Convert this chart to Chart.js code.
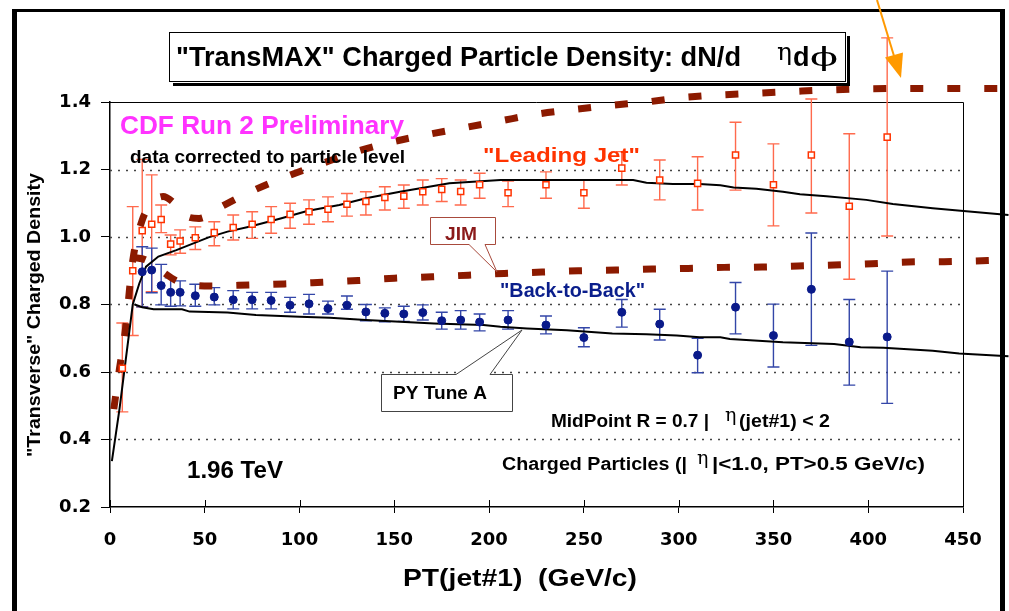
<!DOCTYPE html>
<html>
<head>
<meta charset="utf-8">
<script src="https://cdn.jsdelivr.net/npm/chart.js@4.4.1/dist/chart.umd.min.js"></script>
<style>
  html, body { margin: 0; padding: 0; background: #fff; }
  canvas { display: block; }
</style>
</head>
<body>
<canvas id="transmax" width="1009" height="611"></canvas>
<script>
// "Leading Jet" data points (open red squares) with error bars
const jetPt      = [6.5, 12, 17, 22, 27, 32, 37, 45, 55, 65, 75, 85, 95, 105, 115, 125, 135, 145, 155, 165, 175, 185, 195, 210, 230, 250, 270, 290, 310, 330, 350, 370, 390, 410];
const jetDensity = [0.611, 0.900, 1.019, 1.038, 1.052, 0.979, 0.988, 0.998, 1.013, 1.028, 1.038, 1.052, 1.067, 1.075, 1.082, 1.097, 1.105, 1.117, 1.121, 1.134, 1.141, 1.135, 1.155, 1.131, 1.155, 1.131, 1.204, 1.169, 1.159, 1.243, 1.155, 1.243, 1.091, 1.296];
const jetHigh    = [0.745, 1.090, 1.230, 1.184, 1.095, 1.006, 1.021, 1.030, 1.045, 1.065, 1.075, 1.090, 1.100, 1.110, 1.119, 1.129, 1.134, 1.149, 1.154, 1.169, 1.173, 1.169, 1.189, 1.166, 1.193, 1.169, 1.253, 1.228, 1.238, 1.340, 1.276, 1.409, 1.306, 1.590];
const jetLow     = [0.482, 0.708, 0.793, 0.838, 1.013, 0.947, 0.952, 0.963, 0.974, 0.991, 0.996, 1.011, 1.026, 1.038, 1.045, 1.062, 1.065, 1.080, 1.085, 1.095, 1.105, 1.095, 1.115, 1.090, 1.115, 1.085, 1.154, 1.110, 1.080, 1.139, 1.033, 1.071, 0.875, 1.003];

// "Back-to-Back" data points (blue dots) with error bars
const b2bPt      = [17, 22, 27, 32, 37, 45, 55, 65, 75, 85, 95, 105, 115, 125, 135, 145, 155, 165, 175, 185, 195, 210, 230, 250, 270, 290, 310, 330, 350, 370, 390, 410];
const b2bDensity = [0.897, 0.902, 0.856, 0.836, 0.836, 0.826, 0.822, 0.814, 0.814, 0.812, 0.798, 0.802, 0.788, 0.798, 0.778, 0.774, 0.772, 0.776, 0.752, 0.754, 0.748, 0.754, 0.739, 0.702, 0.777, 0.742, 0.650, 0.792, 0.708, 0.845, 0.689, 0.704];
const b2bHigh    = [0.971, 0.967, 0.919, 0.879, 0.870, 0.860, 0.850, 0.841, 0.836, 0.836, 0.821, 0.830, 0.810, 0.825, 0.800, 0.790, 0.795, 0.799, 0.777, 0.782, 0.772, 0.782, 0.766, 0.731, 0.815, 0.786, 0.700, 0.865, 0.801, 1.012, 0.815, 0.899];
const b2bLow     = [0.793, 0.835, 0.799, 0.795, 0.796, 0.795, 0.799, 0.787, 0.787, 0.787, 0.777, 0.772, 0.772, 0.786, 0.752, 0.749, 0.750, 0.754, 0.727, 0.727, 0.722, 0.727, 0.713, 0.675, 0.733, 0.695, 0.598, 0.713, 0.615, 0.679, 0.561, 0.507];

// PYTHIA Tune A curves (solid black)
const pyJetPt = [1, 5, 12, 15.5, 19, 25.5, 35, 52, 62, 74, 90, 104, 121, 135, 153, 179, 206, 218, 229, 276, 283, 297, 311, 322, 329, 341, 355, 364, 378, 399, 413, 434, 474];
const pyJet   = [0.336, 0.490, 0.800, 0.863, 0.912, 0.942, 0.961, 0.999, 1.016, 1.031, 1.055, 1.077, 1.095, 1.115, 1.134, 1.159, 1.169, 1.169, 1.169, 1.169, 1.161, 1.157, 1.157, 1.153, 1.147, 1.143, 1.134, 1.127, 1.121, 1.110, 1.098, 1.085, 1.065];
const pyB2bPt = [13, 17, 23, 38, 42, 62, 77, 100, 116, 135, 153, 171, 197, 206, 220, 241, 265, 283, 299, 311, 322, 327, 355, 382, 396, 408, 434, 448, 474];
const pyB2b   = [0.800, 0.792, 0.786, 0.786, 0.779, 0.776, 0.769, 0.764, 0.761, 0.754, 0.749, 0.744, 0.739, 0.734, 0.729, 0.724, 0.714, 0.712, 0.708, 0.703, 0.703, 0.698, 0.688, 0.683, 0.673, 0.672, 0.663, 0.655, 0.647];

// JIM curves (thick dashed)
const jimJetPt = [2, 5, 8, 12, 17, 22, 28, 34, 41, 47, 58, 76, 94, 112, 130, 149, 168, 187, 206, 225, 245, 264, 283, 302, 322, 341, 360, 380, 399, 418, 440, 475];
const jimJet   = [0.490, 0.610, 0.720, 0.930, 1.050, 1.100, 1.120, 1.100, 1.060, 1.055, 1.088, 1.139, 1.181, 1.218, 1.253, 1.282, 1.304, 1.324, 1.344, 1.364, 1.378, 1.390, 1.400, 1.413, 1.421, 1.426, 1.431, 1.436, 1.439, 1.440, 1.440, 1.440];
const jimB2bPt = [12, 19, 27, 36, 53, 74, 92, 112, 131, 150, 170, 189, 208, 228, 247, 267, 286, 305, 324, 344, 363, 382, 402, 421, 440, 475];
const jimB2b   = [0.940, 0.932, 0.900, 0.868, 0.855, 0.858, 0.861, 0.866, 0.871, 0.878, 0.882, 0.887, 0.892, 0.896, 0.900, 0.902, 0.905, 0.907, 0.910, 0.911, 0.914, 0.917, 0.921, 0.926, 0.927, 0.932];

// axis ticks
const xTicks = [0, 50, 100, 150, 200, 250, 300, 350, 400, 450];
const yTicks = [0.2, 0.4, 0.6, 0.8, 1.0, 1.2, 1.4];
const yGrid  = [0.4, 0.6, 0.8, 1.0, 1.2];

const toXY = (xs, ys) => xs.map((x, i) => ({ x: x, y: ys[i] }));

const errorBars = [
  { x: jetPt, lo: jetLow, hi: jetHigh, color: '#ff6a4d' },
  { x: b2bPt, lo: b2bLow, hi: b2bHigh, color: '#3346a8' }
];

const SANS = '"Liberation Sans", Arial, sans-serif';

// bold text stretched to the width it has in the picture
function label(ctx, s, x, y, size, color, width, font) {
  ctx.save();
  ctx.font = font || `bold ${size}px ${SANS}`;
  ctx.fillStyle = color;
  ctx.textAlign = 'left';
  ctx.textBaseline = 'alphabetic';
  const w = ctx.measureText(s).width;
  ctx.translate(x, y);
  if (width) ctx.scale(width / w, 1);
  ctx.fillText(s, 0, 0);
  ctx.restore();
}

function eta(ctx, s, x, y, size) {
  label(ctx, s, x, y, size, '#000', null, `${size}px "DejaVu Serif", serif`);
}

const decorPlugin = {
  id: 'decor',
  beforeDraw(chart) {
    const ctx = chart.ctx;
    ctx.save();
    ctx.fillStyle = '#fff';
    ctx.fillRect(0, 0, chart.width, chart.height);
    // outer slide frame
    ctx.fillStyle = '#000';
    ctx.fillRect(12, 9, 5, 602);
    ctx.fillRect(12, 9, 993, 3);
    ctx.fillRect(1000, 9, 5, 602);
    ctx.restore();
  },
  beforeDatasetsDraw(chart) {
    const ctx = chart.ctx;
    const xs = chart.scales.x, ys = chart.scales.y;
    const a = chart.chartArea;
    ctx.save();
    // dotted grid
    ctx.strokeStyle = '#444';
    ctx.lineWidth = 1.3;
    ctx.setLineDash([2, 6]);
    yGrid.forEach(v => {
      const py = Math.round(ys.getPixelForValue(v)) + 0.5;
      ctx.beginPath();
      ctx.moveTo(a.left, py);
      ctx.lineTo(a.right, py);
      ctx.stroke();
    });
    ctx.setLineDash([]);
    // plot box top and right
    ctx.strokeStyle = '#000';
    ctx.lineWidth = 1;
    ctx.beginPath();
    ctx.moveTo(a.left, a.top + 0.5);
    ctx.lineTo(a.right + 0.5, a.top + 0.5);
    ctx.lineTo(a.right + 0.5, a.bottom);
    ctx.stroke();
    // x ticks crossing the axis (inner half)
    xTicks.forEach(v => {
      const px = Math.round(xs.getPixelForValue(v)) + 0.5;
      ctx.beginPath();
      ctx.moveTo(px, a.bottom - 7);
      ctx.lineTo(px, a.bottom);
      ctx.stroke();
    });
    // error bars
    errorBars.forEach(eb => {
      ctx.strokeStyle = eb.color;
      ctx.lineWidth = 1.4;
      eb.x.forEach((x, i) => {
        const px = xs.getPixelForValue(x);
        const pl = ys.getPixelForValue(eb.lo[i]);
        const ph = ys.getPixelForValue(eb.hi[i]);
        ctx.beginPath();
        ctx.moveTo(px, pl); ctx.lineTo(px, ph);
        ctx.moveTo(px - 6, pl); ctx.lineTo(px + 6, pl);
        ctx.moveTo(px - 6, ph); ctx.lineTo(px + 6, ph);
        ctx.stroke();
      });
    });
    ctx.restore();
  },
  afterDraw(chart) {
    const ctx = chart.ctx;
    ctx.save();

    // title box with shadow
    ctx.fillStyle = '#000';
    ctx.fillRect(847, 36, 3, 50);
    ctx.fillRect(173, 83, 677, 3);
    ctx.fillStyle = '#fff';
    ctx.fillRect(169, 32, 676, 49);
    ctx.strokeStyle = '#000';
    ctx.lineWidth = 1;
    ctx.strokeRect(169.5, 32.5, 676, 49);
    label(ctx, '"TransMAX" Charged Particle Density: dN/d', 176, 66, 27, '#000', 565);
    eta(ctx, 'η', 777, 60, 25);
    label(ctx, 'd', 793, 66, 27, '#000');
    label(ctx, 'ϕ', 810, 66, 26, '#000', 28, `26px "DejaVu Serif", serif`);

    // axis titles
    label(ctx, 'PT(jet#1)  (GeV/c)', 403, 586, 23, '#000', 234);
    ctx.save();
    ctx.translate(35, 315);
    ctx.rotate(-Math.PI / 2);
    ctx.font = `bold 19px ${SANS}`;
    const tw = ctx.measureText('"Transverse" Charged Density').width;
    ctx.scale(284 / tw, 1);
    ctx.fillStyle = '#000';
    ctx.textAlign = 'center';
    ctx.textBaseline = 'middle';
    ctx.fillText('"Transverse" Charged Density', 0, 0);
    ctx.restore();

    // annotations
    label(ctx, 'CDF Run 2 Preliminary', 120, 134, 26, '#ff33ff', 284);
    label(ctx, 'data corrected to particle level', 130, 163, 18, '#000', 275);
    label(ctx, '"Leading Jet"', 483, 162, 19.5, '#ff3300', 157);
    label(ctx, '"Back-to-Back"', 500, 297, 19.5, '#0a1e8c', 145);
    label(ctx, '1.96 TeV', 187, 478, 23, '#000', 96);
    label(ctx, 'MidPoint R = 0.7 |', 551, 427, 18, '#000', 158);
    eta(ctx, 'η', 725, 421, 19);
    label(ctx, '(jet#1) < 2', 739, 427, 18, '#000', 91);
    label(ctx, 'Charged Particles (|', 502, 470, 18, '#000', 185);
    eta(ctx, 'η', 697, 464, 19);
    label(ctx, '|<1.0, PT>0.5 GeV/c)', 712, 470, 18, '#000', 213);

    // JIM callout
    ctx.fillStyle = '#fff';
    ctx.strokeStyle = '#a84a3c';
    ctx.lineWidth = 1;
    ctx.beginPath();
    ctx.moveTo(430.5, 217.5);
    ctx.lineTo(495.5, 217.5);
    ctx.lineTo(495.5, 244.5);
    ctx.lineTo(485, 244.5);
    ctx.lineTo(497, 272);
    ctx.lineTo(469, 244.5);
    ctx.lineTo(430.5, 244.5);
    ctx.closePath();
    ctx.fill();
    ctx.stroke();
    label(ctx, 'JIM', 445, 240, 18.5, '#8b1a1a', 32);

    // PY Tune A callout
    ctx.strokeStyle = '#444';
    ctx.beginPath();
    ctx.moveTo(381.5, 374.5);
    ctx.lineTo(456, 374.5);
    ctx.lineTo(522, 330);
    ctx.lineTo(490, 374.5);
    ctx.lineTo(512.5, 374.5);
    ctx.lineTo(512.5, 411.5);
    ctx.lineTo(381.5, 411.5);
    ctx.closePath();
    ctx.fill();
    ctx.stroke();
    label(ctx, 'PY Tune A', 393, 399, 19, '#000', 94);

    // orange arrow at the top
    ctx.strokeStyle = '#ff9900';
    ctx.fillStyle = '#ff9900';
    ctx.lineWidth = 2;
    ctx.beginPath();
    ctx.moveTo(877, 0);
    ctx.lineTo(894, 56);
    ctx.stroke();
    ctx.beginPath();
    ctx.moveTo(901, 78);
    ctx.lineTo(885, 57.5);
    ctx.lineTo(903, 52.5);
    ctx.closePath();
    ctx.fill();

    ctx.restore();
  }
};

new Chart(document.getElementById('transmax'), {
  type: 'line',
  data: {
    datasets: [
      {
        label: 'Leading Jet',
        data: toXY(jetPt, jetDensity),
        showLine: false,
        pointStyle: 'rect',
        pointRadius: 4.3,
        borderWidth: 1.5,
        borderColor: '#ff3300',
        backgroundColor: '#ffffff',
        order: 0
      },
      {
        label: 'Back-to-Back',
        data: toXY(b2bPt, b2bDensity),
        showLine: false,
        pointStyle: 'circle',
        pointRadius: 4,
        borderWidth: 1,
        borderColor: '#0a1a8a',
        backgroundColor: '#0a1a8a',
        order: 1
      },
      {
        label: 'PY Tune A leading',
        data: toXY(pyJetPt, pyJet),
        borderColor: '#000',
        borderWidth: 2,
        pointRadius: 0,
        tension: 0,
        clip: false,
        order: 2
      },
      {
        label: 'PY Tune A back-to-back',
        data: toXY(pyB2bPt, pyB2b),
        borderColor: '#000',
        borderWidth: 2,
        pointRadius: 0,
        tension: 0,
        clip: false,
        order: 3
      },
      {
        label: 'JIM leading',
        data: toXY(jimJetPt, jimJet),
        borderColor: '#8c1a00',
        borderWidth: 7,
        borderDash: [13, 24],
        borderCapStyle: 'butt',
        pointRadius: 0,
        cubicInterpolationMode: 'monotone',
        clip: false,
        order: 4
      },
      {
        label: 'JIM back-to-back',
        data: toXY(jimB2bPt, jimB2b),
        borderColor: '#8c1a00',
        borderWidth: 7,
        borderDash: [13, 24],
        borderCapStyle: 'butt',
        pointRadius: 0,
        cubicInterpolationMode: 'monotone',
        clip: false,
        order: 5
      }
    ]
  },
  options: {
    responsive: false,
    animation: false,
    devicePixelRatio: 1,
    layout: { padding: { top: 102, right: 46, left: 0, bottom: 0 } },
    plugins: {
      legend: { display: false },
      tooltip: { enabled: false }
    },
    scales: {
      x: {
        type: 'linear',
        min: 0,
        max: 450,
        afterFit: s => { s.height = 104; },
        afterBuildTicks: s => { s.ticks = xTicks.map(v => ({ value: v })); },
        ticks: {
          color: '#000',
          padding: 17,
          maxRotation: 0,
          font: { family: '"DejaVu Sans", sans-serif', weight: 'bold', size: 18 }
        },
        grid: { drawOnChartArea: false, drawTicks: true, tickLength: 6, color: '#000' },
        border: { color: '#000', width: 1.5 }
      },
      y: {
        type: 'linear',
        min: 0.2,
        max: 1.4,
        afterFit: s => { s.width = 110; },
        afterBuildTicks: s => { s.ticks = yTicks.map(v => ({ value: v })); },
        ticks: {
          color: '#000',
          padding: 10,
          callback: v => v.toFixed(1),
          font: { family: '"DejaVu Sans", sans-serif', weight: 'bold', size: 18 }
        },
        grid: { drawOnChartArea: false, drawTicks: true, tickLength: 9, color: '#000' },
        border: { color: '#000', width: 1.5 }
      }
    }
  },
  plugins: [decorPlugin]
});
</script>
</body>
</html>
